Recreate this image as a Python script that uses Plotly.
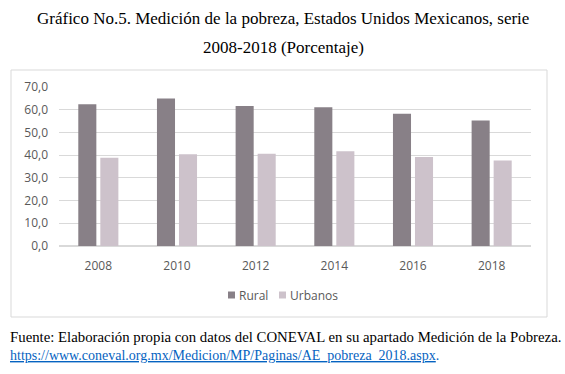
import plotly.graph_objects as go

years = ["2008", "2010", "2012", "2014", "2016", "2018"]
rural = [62.4, 64.9, 61.6, 61.1, 58.2, 55.3]
urbanos = [38.9, 40.4, 40.6, 41.7, 39.2, 37.6]
y_ticks = [0, 10, 20, 30, 40, 50, 60, 70]
series_names = ["Rural", "Urbanos"]

title_l1 = "Gráfico No.5. Medición de la pobreza, Estados Unidos Mexicanos, serie"
title_l2 = "2008-2018 (Porcentaje)"
source_l1 = "Fuente: Elaboración propia con datos del CONEVAL en su apartado Medición de la Pobreza."
source_l2 = "https://www.coneval.org.mx/Medicion/MP/Paginas/AE_pobreza_2018.aspx"

colors = ["#888087", "#cdc2cb"]

W, H = 565, 374
L, R, T, B = 59, 34, 87, 128
pw, ph = W - L - R, H - T - B

def px(x):
    return (x - L) / pw

def py(y):
    return (H - B - y) / ph

fig = go.Figure()
fig.add_trace(go.Bar(x=years, y=rural, name=series_names[0], marker=dict(color=colors[0], line=dict(width=0))))
fig.add_trace(go.Bar(x=years, y=urbanos, name=series_names[1], marker=dict(color=colors[1], line=dict(width=0))))

sans = "Open Sans, Liberation Sans, sans-serif"
serif = "Liberation Serif, DejaVu Serif, serif"

# manual compact legend (Excel-style small squares)
legend_sq_x = [228, 279]
legend_tx_x = [237, 288]
leg_y = 295
shapes = [dict(type="rect", xref="paper", yref="paper",
               x0=px(11), x1=px(547), y0=py(317), y1=py(70),
               line=dict(color="#d9d9d9", width=1), layer="below")]
annotations = []
for sx, tx, name, c in zip(legend_sq_x, legend_tx_x, series_names, colors):
    shapes.append(dict(type="rect", xref="paper", yref="paper",
                       x0=px(sx), x1=px(sx + 7), y0=py(leg_y + 3.5), y1=py(leg_y - 3.5),
                       fillcolor=c, line=dict(width=0)))
    annotations.append(dict(text=name, xref="paper", yref="paper", x=px(tx), y=py(leg_y),
                            xanchor="left", yanchor="middle", showarrow=False,
                            font=dict(family=sans, size=12, color="#595959")))

annotations += [
    dict(text=title_l1, xref="paper", yref="paper", x=px(283), y=py(18), xanchor="center",
         yanchor="middle", showarrow=False, font=dict(family=serif, size=17, color="black")),
    dict(text=title_l2, xref="paper", yref="paper", x=px(283), y=py(47), xanchor="center",
         yanchor="middle", showarrow=False, font=dict(family=serif, size=17, color="black")),
    dict(text=source_l1, xref="paper", yref="paper", x=px(8), y=py(337), xanchor="left",
         yanchor="middle", showarrow=False, font=dict(family=serif, size=14.8, color="black")),
    dict(text="<u>" + source_l2 + "</u>.", xref="paper", yref="paper", x=px(8), y=py(355),
         xanchor="left", yanchor="middle", showarrow=False,
         font=dict(family=serif, size=14, color="#0563c1")),
]

fig.update_layout(
    width=W, height=H,
    margin=dict(l=L, r=R, t=T, b=B, pad=0),
    paper_bgcolor="white", plot_bgcolor="white",
    barmode="group", bargap=0.44, bargroupgap=0.18,
    separators=",.",
    showlegend=False,
    xaxis=dict(showline=False, ticks="", ticklabelstandoff=11,
               tickfont=dict(family=sans, size=12, color="#595959"), showgrid=False),
    yaxis=dict(range=[0, 70], tickvals=y_ticks, tickformat=".1f", showgrid=True,
               gridcolor="#d9d9d9", gridwidth=1, zeroline=True, zerolinecolor="#d9d9d9",
               showline=False, ticks="", ticklabelstandoff=10,
               tickfont=dict(family=sans, size=12, color="#595959")),
    shapes=shapes,
    annotations=annotations,
)

fig.write_html("out.html", config={"displayModeBar": False},
               post_script="document.body.style.margin='0';document.body.style.overflow='hidden';")
